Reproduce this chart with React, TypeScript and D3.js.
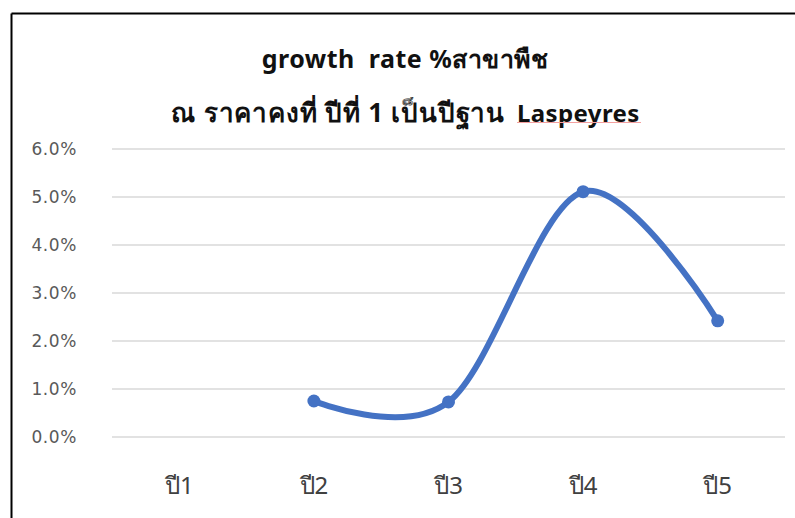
import React from "react";
import * as d3 from "d3";

const categories = ["ปี1", "ปี2", "ปี3", "ปี4", "ปี5"];
const values: (number | null)[] = [null, 0.0075, 0.0073, 0.0511, 0.0242];
const yTicks = [0, 0.01, 0.02, 0.03, 0.04, 0.05, 0.06];
const titleLine1 = "growth  rate %สาขาพืช";
const titleLine2a = "ณ ราคาคงที่ ปีที่ 1 เป็นปีฐาน";
const titleLine2b = "Laspeyres";

const W = 795;
const H = 518;
const plotLeft = 112;
const plotRight = 785;
const yTop = 149;
const yBottom = 437;
const font = "'Noto Sans', 'DejaVu Sans', sans-serif";

export default function App() {
  const x = d3.scaleBand().domain(categories).range([plotLeft, plotRight]);
  const y = d3.scaleLinear().domain([0, 0.06]).range([yBottom, yTop]);
  const pts = categories
    .map((c, i) => ({ c, v: values[i] }))
    .filter((d) => d.v !== null) as { c: string; v: number }[];
  const line = d3
    .line<{ c: string; v: number }>()
    .x((d) => (x(d.c) as number) + x.bandwidth() / 2)
    .y((d) => y(d.v))
    .curve(d3.curveCardinal.tension(0));
  const fmt = d3.format(".1%");
  return (
    <svg
      width={W}
      height={H}
      style={{ position: "absolute", left: 0, top: 0, background: "#fff" }}
    >
      <rect x={0} y={0} width={W} height={H} fill="#fff" />
      <line x1={11.5} y1={13.5} x2={11.5} y2={H} stroke="#000" strokeWidth={2} />
      <line x1={11.5} y1={13.5} x2={W} y2={13.5} stroke="#000" strokeWidth={2} />
      {yTicks.map((t) => (
        <g key={t}>
          <line
            x1={plotLeft}
            x2={plotRight}
            y1={y(t)}
            y2={y(t)}
            stroke="#d9d9d9"
            strokeWidth={1.5}
          />
          <text
            x={77}
            y={y(t) + 6}
            textAnchor="end"
            fontFamily="'DejaVu Sans', sans-serif"
            fontSize={17}
            letterSpacing={0.6}
            fill="#595959"
          >
            {fmt(t)}
          </text>
        </g>
      ))}
      {categories.map((c) => (
        <text
          key={c}
          x={(x(c) as number) + x.bandwidth() / 2}
          y={494}
          textAnchor="middle"
          fontFamily={font}
          fontSize={24}
          fill="#404040"
        >
          {c}
        </text>
      ))}
      <text
        x={405}
        y={68}
        textAnchor="middle"
        fontFamily={font}
        fontSize={25}
        fontWeight="bold"
        letterSpacing={0.5}
        fill="#111"
        style={{ whiteSpace: "pre" }}
      >
        {titleLine1}
      </text>
      <text
        x={505}
        y={122}
        textAnchor="end"
        fontFamily={font}
        fontSize={26}
        fontWeight="bold"
        letterSpacing={0.8}
        fill="#111"
      >
        {titleLine2a}
      </text>
      <text
        x={517}
        y={122}
        textAnchor="start"
        fontFamily={font}
        fontSize={24}
        fontWeight="bold"
        letterSpacing={0.4}
        fill="#111"
      >
        {titleLine2b}
      </text>
      <line x1={517} x2={641} y1={122.5} y2={122.5} stroke="#f4a0a0" strokeWidth={1} />
      <path d={line(pts) || ""} fill="none" stroke="#4472C4" strokeWidth={6} strokeLinecap="round" />
      {pts.map((d) => (
        <circle
          key={d.c}
          cx={(x(d.c) as number) + x.bandwidth() / 2}
          cy={y(d.v)}
          r={6.5}
          fill="#4472C4"
        />
      ))}
    </svg>
  );
}
